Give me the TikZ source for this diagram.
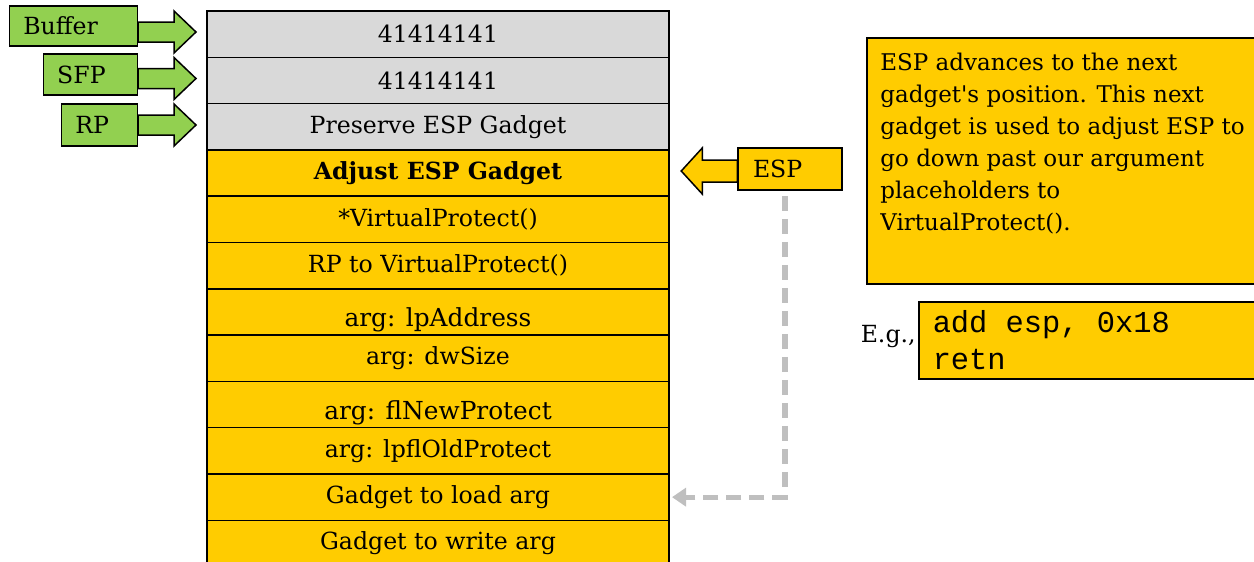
\documentclass[tikz,border=0pt]{standalone}
\usepackage{fontspec}
\setmainfont{DejaVu Serif}
\newfontfamily\codefont{Liberation Mono}
\usepackage{xcolor}
\usetikzlibrary{positioning, arrows.meta}

\definecolor{stackgray}{HTML}{D9D9D9}
\definecolor{gadgetgold}{HTML}{FFCC00}
\definecolor{taggreen}{HTML}{92D050}
\definecolor{dashgray}{HTML}{BFBFBF}

\newcommand{\codesp}{\hspace{0.6em}}

\tikzset{
    row/.style={draw, line width=0.75pt, minimum width=231pt, minimum height=23.15pt,
        inner sep=0pt, outer sep=0pt, font=\fontsize{11.8}{14}\selectfont},
    grayrow/.style={row, fill=stackgray},
    goldrow/.style={row, fill=gadgetgold},
    lowrow/.style={goldrow, font=\fontsize{12.4}{15}\selectfont, text height=14.5pt, text depth=0pt},
    tag/.style={draw, line width=0.75pt, fill=taggreen, inner xsep=7pt, inner ysep=0pt,
        align=left, anchor=east, font=\fontsize{11.8}{14}\selectfont},
    greenarrow/.style={draw, line width=0.75pt, fill=taggreen},
    goldarrow/.style={draw, line width=0.75pt, fill=gadgetgold},
    notebox/.style={draw, line width=0.75pt, fill=gadgetgold, anchor=north west}
}

\begin{document}
\begin{tikzpicture}[x=0.5pt, y=-0.5pt]
    \useasboundingbox (0,0) rectangle (1254,562);
    \clip (0,0) rectangle (1254,562);

    % Ngăn xếp
    \node[grayrow, anchor=north] (r1) at (438,11) {41414141};
    \node[grayrow, below=0pt of r1] (r2) {41414141};
    \node[grayrow, below=0pt of r2] (r3) {Preserve ESP Gadget};
    \node[goldrow, below=0pt of r3, font=\fontsize{11.8}{14}\selectfont\bfseries] (r4) {Adjust ESP Gadget};
    \node[goldrow, below=0pt of r4] (r5) {*VirtualProtect()};
    \node[goldrow, below=0pt of r5] (r6) {RP to VirtualProtect()};
    \node[lowrow, below=0pt of r6] (r7) {arg: lpAddress};
    \node[goldrow, below=0pt of r7] (r8) {arg: dwSize};
    \node[lowrow, below=0pt of r8] (r9) {arg: flNewProtect};
    \node[goldrow, below=0pt of r9] (r10) {arg: lpflOldProtect};
    \node[goldrow, below=0pt of r10] (r11) {Gadget to load arg};
    \node[goldrow, below=0pt of r11] (r12) {Gadget to write arg};

    % Nhãn bên trái
    \node[tag, text width=50pt, minimum height=20pt] (buf) at (138,26) {Buffer};
    \node[tag, text width=33pt, minimum height=20.5pt] (sfp) at (138,74.5) {SFP};
    \node[tag, text width=24pt, minimum height=21pt] (rp) at (138,125) {RP};
    \draw[greenarrow] ([yshift=2pt]buf.east) -- ++(36,0) -- ++(0,-11) -- ++(22,21)
        -- ++(-22,21) -- ++(0,-11) -- ++(-36,0) -- cycle;
    \draw[greenarrow] ([yshift=3pt]sfp.east) -- ++(36,0) -- ++(0,-11) -- ++(22,21)
        -- ++(-22,21) -- ++(0,-11) -- ++(-36,0) -- cycle;
    \draw[greenarrow] ([yshift=5pt]rp.east) -- ++(36,0) -- ++(0,-11) -- ++(22,21)
        -- ++(-22,21) -- ++(0,-11) -- ++(-36,0) -- cycle;

    % ESP
    \node[draw, line width=0.75pt, fill=gadgetgold, minimum height=21pt, text width=37pt,
        inner xsep=7.5pt, inner ysep=0pt, align=left, font=\fontsize{11.8}{14}\selectfont]
        (esp) at (790,169) {ESP};
    \draw[goldarrow] ([yshift=4.5pt]esp.west) -- ++(-35,0) -- ++(0,-12) -- ++(-21,23)
        -- ++(21,23) -- ++(0,-12) -- ++(35,0) -- cycle;
    \draw[draw=dashgray, line width=2.6pt, dash pattern=on 7.5pt off 4pt,
        -{Triangle[width=9pt, length=7pt]}, shorten <=2.5pt, shorten >=1.5pt]
        ([xshift=-2.5pt]esp.south) |- (r11.east);

    % Ghi chú bên phải
    \node[notebox, minimum width=220pt, minimum height=123pt] (note) at (866,37) {};
    \node[anchor=north west, inner sep=0pt, align=left, font=\fontsize{11.5}{16}\selectfont]
        (notetext) at ([xshift=7pt, yshift=-7.8pt]note.north west)
        {ESP advances to the next\\
         gadget\textquotesingle s position. This next\\
         gadget is used to adjust ESP to\\
         go down past our argument\\
         placeholders to\\
         VirtualProtect().};

    % Ví dụ
    \node[notebox, text width=190pt, inner xsep=7pt, inner ysep=4.5pt,
        font=\codefont\fontsize{15.2}{18.5}\selectfont] (code) at (918,301)
        {add\codesp esp,\codesp 0x18\\retn};
    \node[anchor=base east, inner sep=0pt, font=\fontsize{11.8}{14}\selectfont] (eg) at (916,342) {E.g.,};
\end{tikzpicture}
\end{document}
